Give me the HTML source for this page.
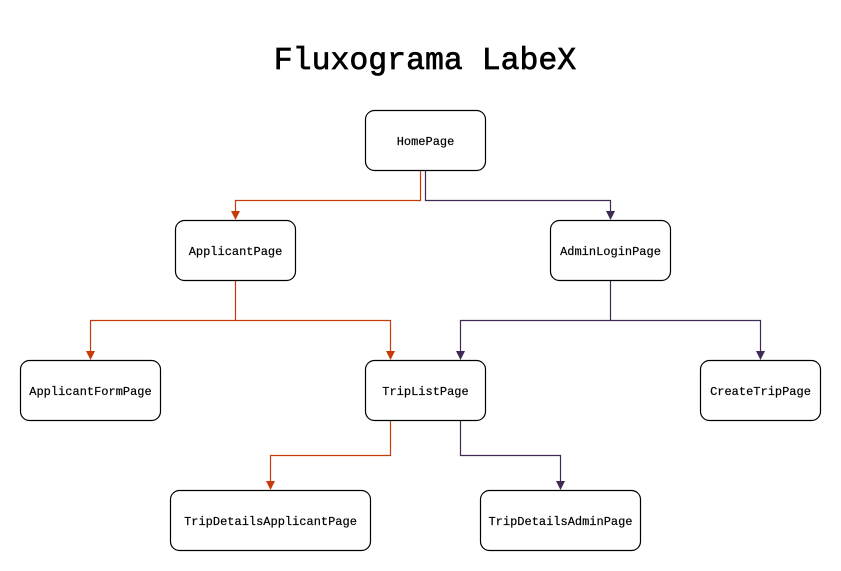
<!DOCTYPE html>
<html><head><meta charset="utf-8"><style>
html,body{margin:0;padding:0;background:#fff;}
svg{display:block;}
text{font-family:"Liberation Mono",monospace;fill:#000;}
</style></head><body>
<svg width="841" height="571" viewBox="0 0 841 571" xmlns="http://www.w3.org/2000/svg">
<text x="425" y="69" font-size="31.5" stroke="#000" stroke-width="0.7" text-anchor="middle">Fluxograma LabeX</text>
<g fill="none" stroke-width="1.2">
<path d="M420.5 170 V200.5 H235.5 V213" stroke="#c73b0b"/>
<path d="M425.5 170 V200.5 H610.5 V213" stroke="#3f2a56"/>
<path d="M235.5 280 V320.5 H90.5 V353 M235.5 320.5 H390.5 V353" stroke="#c73b0b"/>
<path d="M610.5 280 V320.5 H460.5 V353 M610.5 320.5 H760.5 V353" stroke="#3f2a56"/>
<path d="M390.5 420 V455.5 H270.5 V483" stroke="#c73b0b"/>
<path d="M460.5 420 V455.5 H560.5 V483" stroke="#3f2a56"/>
</g>
<g fill="#c73b0b">
<path d="M231 211 L240 211 L235.5 220 Z"/>
<path d="M86 351 L95 351 L90.5 360 Z"/>
<path d="M386 351 L395 351 L390.5 360 Z"/>
<path d="M266 481 L275 481 L270.5 490 Z"/>
</g>
<g fill="#3f2a56">
<path d="M606 211 L615 211 L610.5 220 Z"/>
<path d="M456 351 L465 351 L460.5 360 Z"/>
<path d="M756 351 L765 351 L760.5 360 Z"/>
<path d="M556 481 L565 481 L560.5 490 Z"/>
</g>
<g fill="#fff" stroke="#000" stroke-width="1.2">
<rect x="365.5" y="110.5" width="120" height="60" rx="9"/>
<rect x="175.5" y="220.5" width="120" height="60" rx="9"/>
<rect x="550.5" y="220.5" width="120" height="60" rx="9"/>
<rect x="20.5" y="360.5" width="140" height="60" rx="9"/>
<rect x="365.5" y="360.5" width="120" height="60" rx="9"/>
<rect x="700.5" y="360.5" width="120" height="60" rx="9"/>
<rect x="170.5" y="490.5" width="200" height="60" rx="9"/>
<rect x="480.5" y="490.5" width="160" height="60" rx="9"/>
</g>
<g font-size="12" text-anchor="middle" stroke="#000" stroke-width="0.2">
<text x="425.5" y="145">HomePage</text>
<text x="235.5" y="255">ApplicantPage</text>
<text x="610.5" y="255">AdminLoginPage</text>
<text x="90.5" y="395">ApplicantFormPage</text>
<text x="425.5" y="395">TripListPage</text>
<text x="760.5" y="395">CreateTripPage</text>
<text x="270.5" y="525">TripDetailsApplicantPage</text>
<text x="560.5" y="525">TripDetailsAdminPage</text>
</g>
</svg>
</body></html>
